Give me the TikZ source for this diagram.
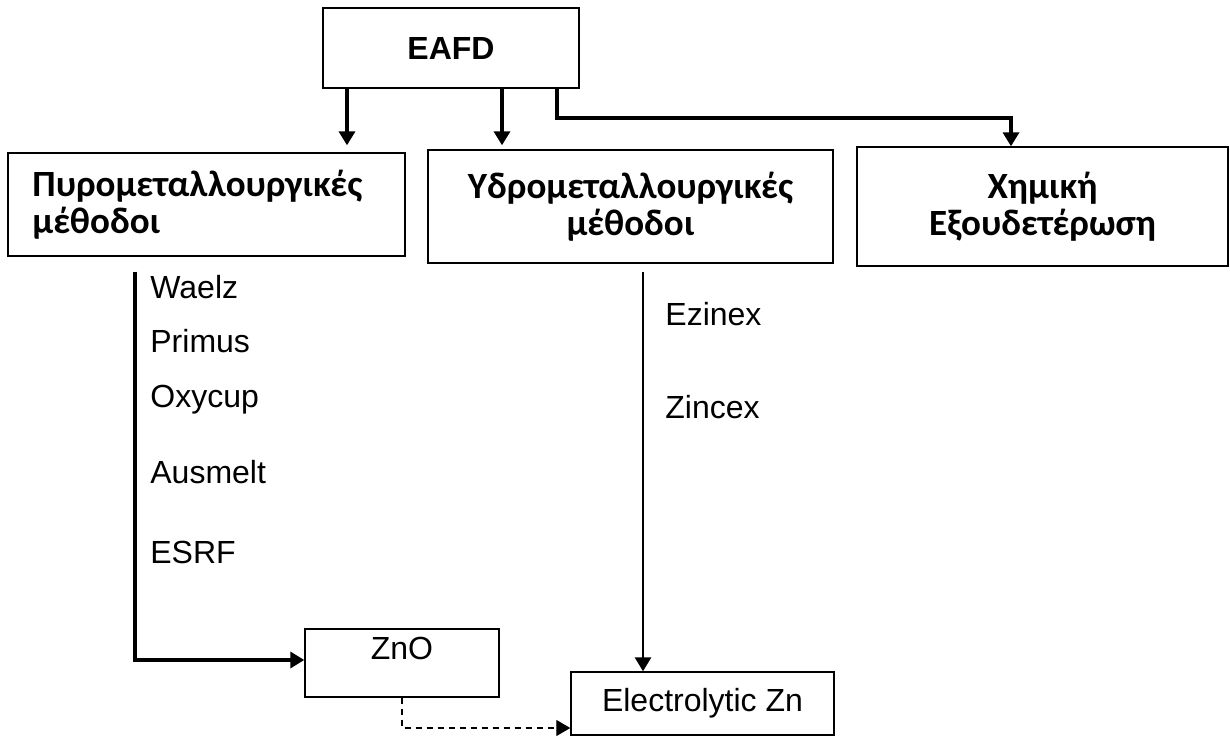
\documentclass[tikz,border=0pt]{standalone}
\usepackage{fontspec}
\setmainfont{Liberation Sans}
\newfontfamily\grk{Carlito}
\usetikzlibrary{arrows.meta,calc}
\begin{document}
\begin{tikzpicture}[x=0.5pt,y=-0.5pt,
  box/.style={draw=black,line width=0.7pt,inner sep=0pt,fill=white},
  gtext/.style={font=\grk\bfseries\fontsize{18.5}{18.5}\selectfont},
  ltext/.style={font=\fontsize{16}{18}\selectfont},
  conn/.style={line width=1.7pt,-{Triangle[width=8pt,length=7pt]}},
  dconn/.style={line width=0.6pt,dash pattern=on 3pt off 2.5pt,-{Triangle[width=8pt,length=7pt]}},
  lbl/.style={anchor=base west,inner sep=0pt,font=\fontsize{16}{18}\selectfont}]
\useasboundingbox (0,0) rectangle (1230,738);
% boxes
\node[box,minimum width=128pt,minimum height=40pt,font=\bfseries\fontsize{16}{18}\selectfont] (eafd) at (451,48) {EAFD};
\node[box,minimum width=198.5pt,minimum height=51.5pt,gtext,align=left,text width=174pt,inner xsep=12.25pt] (pyro) at (206.5,204.5) {Πυρομεταλλουργικές\\μέθοδοι};
\node[box,minimum width=202.5pt,minimum height=56.5pt,gtext,align=center] (ydro) at (630.5,206.5) {Υδρομεταλλουργικές\\μέθοδοι};
\node[box,minimum width=185.5pt,minimum height=59.5pt,gtext,align=center] (chem) at (1042.5,206.5) {Χημική\\Εξουδετέρωση};
\node[box,minimum width=97pt,text height=15.2pt,text depth=18.8pt,ltext] (zno) at (402,663) {ZnO};
\node[box,minimum width=131.5pt,minimum height=31.5pt,ltext] (elec) at (702.5,703.5) {Electrolytic Zn};
% helper coordinates
\coordinate (a1) at (347,0);
\coordinate (a2) at (502,0);
\coordinate (a3) at (557,0);
\coordinate (a3b) at (1011,118);
\coordinate (pl) at (135,660);
\coordinate (yl) at (643,0);
\coordinate (dl) at (402,728);
% connectors
\draw[conn,shorten >=3.5pt] (a1 |- eafd.south) -- (a1 |- pyro.north);
\draw[conn,shorten >=2pt] (a2 |- eafd.south) -- (a2 |- ydro.north);
\draw[conn] (a3 |- eafd.south) |- (a3b) -- (a3b |- chem.north);
\draw[conn,shorten <=7.5pt] (pl |- pyro.south) -- (pl) -- (zno.west |- pl);
\draw[conn,line width=1.4pt,shorten <=4pt] (yl |- ydro.south) -- (yl |- elec.north);
\draw[dconn] (zno.south) -- (dl) -- (elec.west |- dl);
% labels
\node[lbl] (w) at (150,298) {Waelz};
\node[lbl] (p) at (150,352) {Primus};
\node[lbl] (o) at (150,407) {Oxycup};
\node[lbl] (au) at (150,483) {Ausmelt};
\node[lbl] (es) at (150,563) {ESRF};
\node[lbl] (ez) at (665,325) {Ezinex};
\node[lbl] (zi) at (665,418) {Zincex};
\end{tikzpicture}
\end{document}
